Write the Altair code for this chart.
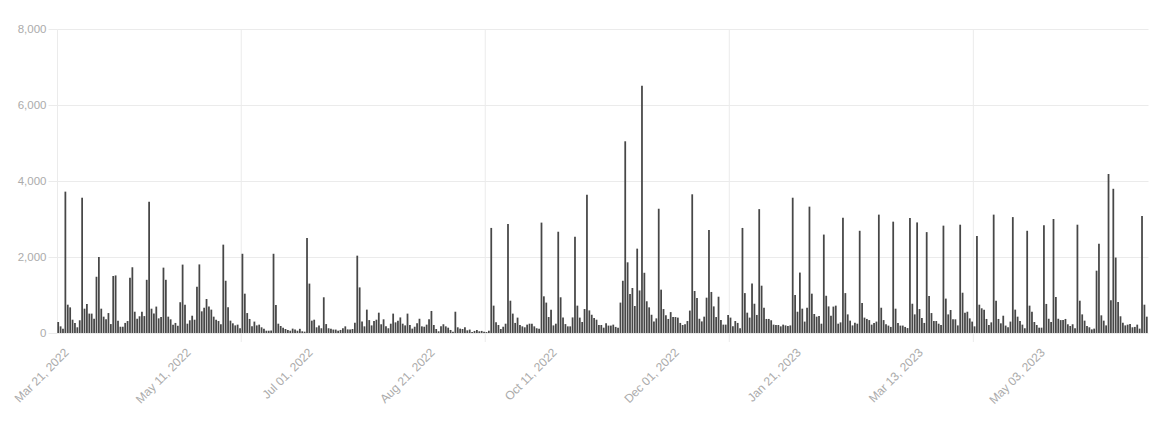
import altair as alt
import pandas as pd

start_date = "2022-03-21"

# daily counts (Mar 21, 2022 -> Jun 19, 2023)
counts_mar_may_2022 = [
    290, 175, 115, 3720, 745, 675, 350, 265, 150, 335,
    3560, 640, 765, 510, 510, 375, 1480, 2000, 640, 430,
    360, 525, 235, 1500, 1515, 325, 165, 165, 265, 315,
    1455, 1730, 560, 375, 440, 560, 445, 1400, 3455, 640,
    510, 695, 385, 420, 1720, 1400, 430, 360, 220, 265,
    190,
]
counts_may_jul_2022 = [
    810, 1800, 745, 245, 335, 455, 350, 1220, 1805, 570,
    665, 895, 695, 615, 430, 350, 315, 230, 2325, 1375,
    675, 325, 255, 200, 220, 125, 2085, 1035, 525, 370,
    175, 300, 200, 220, 150, 115, 60, 60, 65, 2085,
    735, 245, 185, 140, 105, 80, 60, 115, 90, 60,
    110,
]
counts_jul_aug_2022 = [
    45, 35, 2500, 1300, 325, 350, 150, 200, 125, 940,
    235, 125, 115, 90, 90, 60, 80, 125, 175, 95,
    95, 105, 270, 2035, 1200, 300, 175, 615, 340, 200,
    315, 350, 535, 230, 360, 175, 125, 245, 510, 280,
    325, 410, 245, 200, 510, 210, 115, 165, 255, 375,
    175,
]
counts_aug_oct_2022 = [
    165, 220, 360, 580, 210, 105, 45, 175, 230, 175,
    140, 80, 35, 560, 150, 115, 105, 150, 70, 90,
    25, 55, 80, 45, 55, 35, 25, 60, 2765, 720,
    280, 210, 105, 165, 245, 2870, 850, 510, 265, 405,
    210, 175, 150, 220, 245, 245, 175, 125, 115, 2905,
    965,
]
counts_oct_nov_2022 = [
    800, 420, 615, 200, 245, 2665, 940, 405, 235, 175,
    175, 410, 2535, 720, 405, 290, 630, 3640, 595, 480,
    395, 350, 210, 210, 140, 255, 195, 195, 220, 160,
    140, 800, 1375, 5045, 1860, 1025, 1185, 710, 2220, 1120,
    6505, 1585, 835, 675, 480, 300, 385, 3270, 1140, 630,
    465,
]
counts_dec_2022_jan_2023 = [
    370, 550, 420, 420, 405, 265, 210, 230, 315, 590,
    3650, 1105, 920, 375, 305, 430, 930, 2710, 1080, 700,
    420, 955, 340, 220, 220, 475, 405, 175, 315, 265,
    125, 2765, 1050, 535, 405, 1305, 770, 475, 3260, 1245,
    665, 370, 370, 335, 220, 210, 210, 175, 220, 200,
    185, 200,
]
counts_jan_mar_2023 = [
    3560, 1000, 560, 1590, 640, 300, 665, 3325, 1035, 500,
    430, 445, 245, 2590, 980, 700, 455, 695, 720, 245,
    280, 3035, 1050, 490, 325, 200, 270, 245, 2690, 790,
    405, 370, 340, 220, 265, 300, 3115, 665, 340, 230,
    195, 160, 2930, 640, 265, 195, 195, 160, 130, 3025,
    770, 490, 2910,
]
counts_mar_may_2023 = [
    630, 395, 265, 2655, 975, 525, 315, 315, 245, 210,
    2825, 905, 490, 605, 360, 360, 200, 2850, 1060, 535,
    560, 385, 300, 175, 2555, 745, 650, 615, 370, 210,
    280, 3115, 850, 370, 255, 455, 195, 150, 300, 3050,
    615, 430, 315, 220, 125, 2690, 720, 560, 290, 210,
    140, 140,
]
counts_may_jun_2023 = [
    2835, 765, 375, 290, 3000, 945, 375, 340, 340, 370,
    230, 185, 230, 125, 2850, 850, 490, 325, 185, 150,
    95, 115, 1640, 2350, 465, 325, 200, 4185, 860, 3795,
    1985, 815, 440, 270, 200, 220, 235, 150, 160, 220,
    115, 3080, 745, 430,
]

counts = (counts_mar_may_2022 + counts_may_jul_2022 + counts_jul_aug_2022
          + counts_aug_oct_2022 + counts_oct_nov_2022 + counts_dec_2022_jan_2023
          + counts_jan_mar_2023 + counts_mar_may_2023 + counts_may_jun_2023)

tick_index = [0, 51, 102, 153, 204, 255, 306, 357, 408]
tick_labels = ["Mar 21, 2022", "May 11, 2022", "Jul 01, 2022", "Aug 21, 2022",
               "Oct 11, 2022", "Dec 01, 2022", "Jan 21, 2023", "Mar 13, 2023",
               "May 03, 2023"]
grid_index = [76.5, 178.5, 280.5, 382.5]
y_ticks = [0, 2000, 4000, 6000, 8000]

n = len(counts)
dates = pd.date_range(start_date, periods=n, freq="D")
df = pd.DataFrame({"i": list(range(n)), "date": dates.strftime("%Y-%m-%d"), "value": counts})
grid_df = pd.DataFrame({"g": grid_index})
label_df = pd.DataFrame({"t": tick_index, "label": tick_labels})

W, H = 1091, 304
GRID = "#ebebeb"
LABEL = "#ababab"
FONT = "Liberation Sans"

x_scale = alt.Scale(domain=[-0.5, n - 0.5], nice=False, zero=False)

grid_layer = alt.Chart(grid_df).mark_rule(color=GRID, strokeWidth=1).encode(
    x=alt.X("g:Q", scale=x_scale, axis=None),
    y=alt.value(0),
    y2=alt.value(H + 9),
)

bars = alt.Chart(df).mark_bar(color="#474747").transform_calculate(
    lo="datum.i - 0.37", hi="datum.i + 0.37"
).encode(
    x=alt.X("lo:Q", scale=x_scale, axis=None),
    x2="hi:Q",
    y=alt.Y("value:Q", title=None,
            scale=alt.Scale(domain=[0, 8000], nice=False),
            axis=alt.Axis(values=y_ticks, format=",.0f", grid=True, gridColor=GRID,
                          ticks=True, tickSize=9, tickColor=GRID, domain=True,
                          domainColor=GRID, labelPadding=2, labelColor=LABEL,
                          labelFont=FONT, labelFontSize=11.5)),
    y2=alt.datum(0),
)

x_labels = alt.Chart(label_df).mark_text(
    angle=315, align="right", baseline="top", dx=3.5, dy=3.5,
    font=FONT, fontSize=12, color=LABEL,
).encode(
    x=alt.X("t:Q", scale=x_scale, axis=None),
    y=alt.value(H + 14),
    text="label:N",
)

chart = alt.layer(grid_layer, bars, x_labels).properties(
    width=W, height=H,
    autosize=alt.AutoSizeParams(type="none"),
    padding={"left": 49, "top": 21, "right": 4, "bottom": 78},
).configure_view(stroke=None)

chart.save("out.html", embed_options={"renderer": "svg", "actions": False})
